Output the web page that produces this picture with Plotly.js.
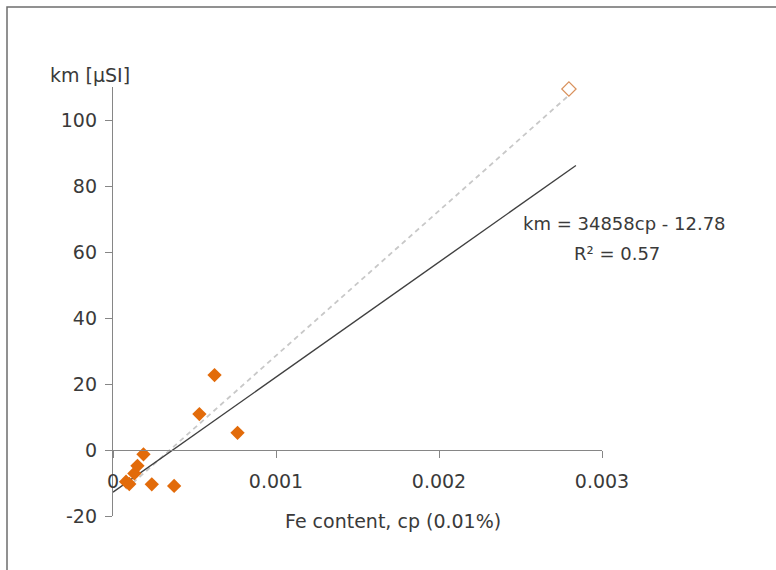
<!DOCTYPE html>
<html>
<head>
<meta charset="utf-8">
<script src="https://cdn.plot.ly/plotly-3.0.1.min.js"></script>
<style>
  html, body { margin: 0; padding: 0; background: #ffffff; }
  #chart { width: 776px; height: 570px; }
</style>
</head>
<body>
<div id="chart"></div>
<script>
// ---- data ----
// Fe content (cp, 0.01%) and km (µSI) of the filled points
const cpValues = [0.000080, 0.000100, 0.000131, 0.000150, 0.000187, 0.000238, 0.000375, 0.000530, 0.000623, 0.000764];
const kmValues = [-9.6, -10.3, -7.1, -4.8, -1.3, -10.4, -10.9, 10.9, 22.7, 5.2];
// outlier drawn as an open marker
const cpOutlier = [0.002797];
const kmOutlier = [109.4];
// fitted line of the filled points (label in the chart)
const trendSlope = 34858;
const trendIntercept = -12.78;
const trendRange = [0, 0.00284];
const equationLabel = "km = 34858cp - 12.78";
const r2Label = "R² = 0.57";
// axes
const xTicks = [0, 0.001, 0.002, 0.003];
const xTickText = ["0", "0.001", "0.002", "0.003"];
const yTicks = [-20, 0, 20, 40, 60, 80, 100];
const yTickText = ["-20", "0", "20", "40", "60", "80", "100"];
const xRange = [0, 0.003];
const yRange = [-20, 110];
const xTitle = "Fe content, cp (0.01%)";
const yTitle = "km [µSI]";

// ---- derived ----
const trendX = trendRange.slice();
const trendY = trendX.map(x => trendSlope * x + trendIntercept);

// least squares over all points (dashed line)
const allX = cpValues.concat(cpOutlier);
const allY = kmValues.concat(kmOutlier);
const n = allX.length;
const mx = allX.reduce((a, b) => a + b, 0) / n;
const my = allY.reduce((a, b) => a + b, 0) / n;
let sxy = 0, sxx = 0;
for (let i = 0; i < n; i++) { sxy += (allX[i] - mx) * (allY[i] - my); sxx += (allX[i] - mx) ** 2; }
const allSlope = sxy / sxx;
const allIntercept = my - allSlope * mx;
const dashX = [Math.min(...allX), Math.max(...allX)];
const dashY = dashX.map(x => allSlope * x + allIntercept);

// ---- layout geometry ----
const W = 776, H = 570;
const M = { l: 113, r: 174, t: 87, b: 54 };
const plotW = W - M.l - M.r, plotH = H - M.t - M.b;
const px2x = p => (p - M.l) / plotW;
const py2y = p => (H - M.b - p) / plotH;

const FONT = "DejaVu Sans, sans-serif";
const TXT = "#3a3a3a";
const AXIS = "#868686";

const traces = [
  {
    x: dashX, y: dashY, type: "scatter", mode: "lines",
    line: { color: "#c8c8c8", width: 1.8, dash: "5px,4px" },
    hoverinfo: "skip", showlegend: false
  },
  {
    x: trendX, y: trendY, type: "scatter", mode: "lines",
    line: { color: "#404040", width: 1.4 },
    hoverinfo: "skip", showlegend: false, cliponaxis: false
  },
  {
    x: cpValues, y: kmValues, type: "scatter", mode: "markers",
    marker: { symbol: "diamond", size: 11, color: "#e26b0a", line: { width: 0 } },
    showlegend: false, cliponaxis: false
  },
  {
    x: cpOutlier, y: kmOutlier, type: "scatter", mode: "markers",
    marker: { symbol: "diamond-open", size: 11, color: "#d9915c", line: { width: 1.2, color: "#d9915c" } },
    showlegend: false, cliponaxis: false
  }
];

const layout = {
  width: W, height: H,
  margin: M,
  paper_bgcolor: "#ffffff",
  plot_bgcolor: "rgba(0,0,0,0)",
  font: { family: FONT, size: 19, color: TXT },
  showlegend: false,
  xaxis: {
    range: xRange,
    anchor: "free",
    position: (0 - yRange[0]) / (yRange[1] - yRange[0]),
    tickvals: xTicks, ticktext: xTickText,
    ticks: "outside", ticklen: 7, tickcolor: AXIS, tickwidth: 1,
    showline: true, linecolor: AXIS, linewidth: 1.2,
    showgrid: false, zeroline: false,
    ticklabelstandoff: 7,
    tickfont: { family: FONT, size: 19, color: TXT }
  },
  yaxis: {
    range: yRange,
    tickvals: yTicks, ticktext: yTickText,
    ticks: "outside", ticklen: 7, tickcolor: AXIS, tickwidth: 1,
    showline: true, linecolor: AXIS, linewidth: 1.2,
    showgrid: false, zeroline: false,
    ticklabelstandoff: 4,
    tickfont: { family: FONT, size: 19, color: TXT }
  },
  annotations: [
    { text: yTitle, xref: "paper", yref: "paper", x: px2x(90), y: py2y(75),
      xanchor: "center", yanchor: "middle", showarrow: false,
      font: { family: FONT, size: 19, color: TXT } },
    { text: xTitle, xref: "paper", yref: "paper", x: px2x(393), y: py2y(521),
      xanchor: "center", yanchor: "middle", showarrow: false,
      font: { family: FONT, size: 19, color: TXT } },
    { text: equationLabel, xref: "paper", yref: "paper", x: px2x(624), y: py2y(224),
      xanchor: "center", yanchor: "middle", showarrow: false,
      font: { family: FONT, size: 18, color: TXT } },
    { text: r2Label, xref: "paper", yref: "paper", x: px2x(617), y: py2y(253),
      xanchor: "center", yanchor: "middle", showarrow: false,
      font: { family: FONT, size: 18, color: TXT } }
  ],
  shapes: [
    { type: "rect", xref: "paper", yref: "paper",
      x0: px2x(7), x1: px2x(W + 20), y0: py2y(H + 20), y1: py2y(7),
      line: { color: "#6e6e6e", width: 1.5 }, fillcolor: "rgba(0,0,0,0)", layer: "below" }
  ]
};

Plotly.newPlot("chart", traces, layout, { displayModeBar: false, staticPlot: true });
</script>
</body>
</html>
